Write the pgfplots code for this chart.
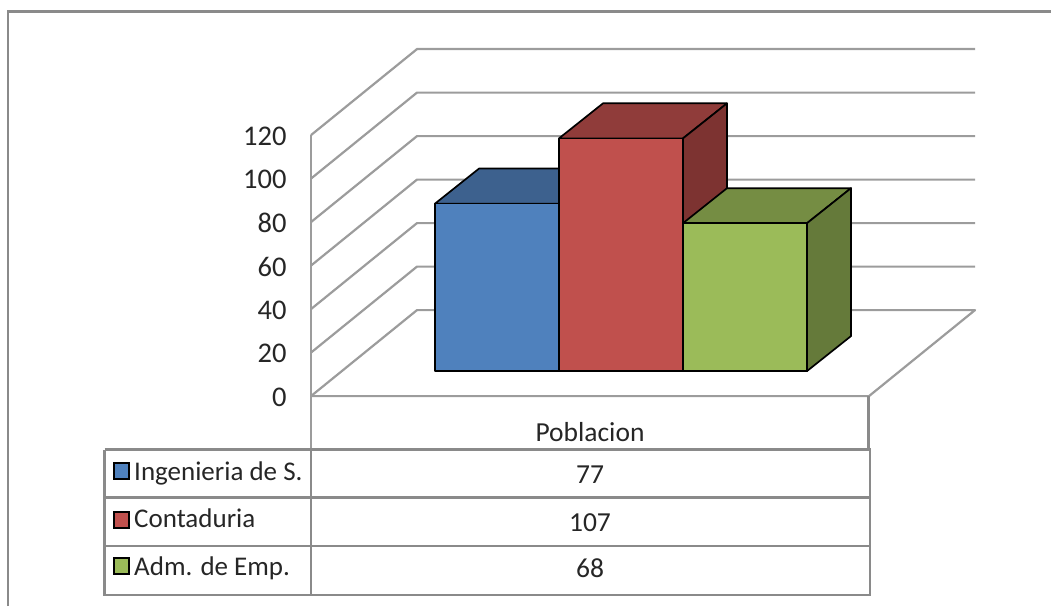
\documentclass[border=0pt]{standalone}
\usepackage{fontspec}
\setmainfont{Carlito}
\usepackage{pgfplots}
\pgfplotsset{compat=1.18}

\definecolor{gridgray}{HTML}{9C9C9C}
\definecolor{framegray}{HTML}{8A8A8A}
\definecolor{bluefront}{HTML}{4F81BD}
\definecolor{bluetop}{HTML}{3D618E}
\definecolor{redfront}{HTML}{C0504D}
\definecolor{redtop}{HTML}{903C3A}
\definecolor{redside}{HTML}{7D3331}
\definecolor{greenfront}{HTML}{9BBB59}
\definecolor{greentop}{HTML}{758D43}
\definecolor{greenside}{HTML}{657A3A}

% A box standing on the floor: x0, x1, value, front, top and side colours.
% The foot sits 11.5 units up the floor; the depth runs 44 across, 16.1 up.
\newcommand{\drawbox}[6]{%
  \pgfmathsetmacro\boxbase{11.5}%
  \pgfmathsetmacro\boxtop{#3+11.5}%
  \pgfmathsetmacro\boxback{#3+11.5+16.1}%
  \pgfmathsetmacro\boxfoot{11.5+16.1}%
  \pgfmathsetmacro\xa{#1+44}%
  \pgfmathsetmacro\xb{#2+44}%
  \addplot[draw=black, line width=1.7pt, line join=round, fill=#5] coordinates
    {(#1,\boxtop) (#2,\boxtop) (\xb,\boxback) (\xa,\boxback)} --cycle;
  \addplot[draw=black, line width=1.7pt, line join=round, fill=#6] coordinates
    {(#2,\boxbase) (\xb,\boxfoot) (\xb,\boxback) (#2,\boxtop)} --cycle;
  \addplot[draw=black, line width=1.7pt, line join=round, fill=#4] coordinates
    {(#1,\boxbase) (#2,\boxbase) (#2,\boxtop) (#1,\boxtop)} --cycle;
}

% One wall-and-back gridline at a given value.
\newcommand{\gridline}[1]{%
  \pgfmathsetmacro\backv{#1+39.54}%
  \addplot[gridgray, line width=2.2pt] coordinates {(311,#1) (417,\backv) (975,\backv)};
}

% One colour key of the data table.
\newcommand{\tablekey}[3]{%
  \addplot[draw=black, line width=2pt, fill=#3] coordinates
    {(113.5,#1) (128.5,#1) (128.5,#2) (113.5,#2)} --cycle;
}

\begin{document}
\begin{tikzpicture}
\useasboundingbox (0,0) rectangle (1051pt,606pt);
\begin{axis}[
  at={(311pt,209.9pt)}, anchor=south west,
  scale only axis, width=558pt, height=261pt,
  xmin=311, xmax=869, ymin=0, ymax=120,
  clip=false,
  axis line style={draw=none},
  xtick=\empty,
  ytick={0,20,40,60,80,100,120},
  major tick length=0pt,
  tick style={draw=none},
  yticklabel style={font=\fontsize{28.5}{30}\selectfont, anchor=east, xshift=-21pt, yshift=-1pt, text=black!85},
  /pgf/number format/assume math mode=true,
]
% outer frame of the chart area
\addplot[framegray, line width=2.8pt] coordinates {(8,-96.55) (8,177) (1051,177)};

% floor, walls and gridlines
\addplot[gridgray, line width=2.2pt] coordinates {(311,120) (311,-24.6)};
\addplot[gridgray, line width=2.2pt, line join=round] coordinates {(311,0) (417,39.54) (975,39.54) (869,0) (311,0)};
\gridline{20}
\gridline{40}
\gridline{60}
\gridline{80}
\gridline{100}
\gridline{120}

% the three boxes, back to front in drawing order
\drawbox{435}{559}{77}{bluefront}{bluetop}{bluetop}
\drawbox{559}{683}{107}{redfront}{redtop}{redside}
\drawbox{683}{807}{68}{greenfront}{greentop}{greenside}

% data table rules
\addplot[framegray, line width=2.2pt] coordinates {(868.5,0) (868.5,-24.6)};
\addplot[framegray, line width=2.6pt] coordinates {(104.5,-24.6) (870,-24.6) (870,-91.5) (104.5,-91.5) (104.5,-24.6)};
\addplot[framegray, line width=2.6pt] coordinates {(104.5,-46.7) (870,-46.7)};
\addplot[framegray, line width=2.6pt] coordinates {(104.5,-69) (870,-69)};
\addplot[framegray, line width=2.6pt] coordinates {(311,-24.6) (311,-91.5)};

% colour keys
\tablekey{-30.8}{-38.2}{bluefront}
\tablekey{-53.3}{-60.6}{redfront}
\tablekey{-74.6}{-82}{greenfront}

% table text
\begin{scope}[every node/.style={font=\fontsize{27.5}{30}\selectfont, text=black!85}]
\node[anchor=base] at (axis cs:590,-20.8) {Poblacion};
\node at (axis cs:590,-36.2) {77};
\node at (axis cs:590,-58.2) {107};
\node at (axis cs:590,-79.2) {68};
\end{scope}
\begin{scope}[every node/.style={font=\fontsize{27}{30}\selectfont, text=black!85, anchor=base west, inner sep=0pt}]
\node at (axis cs:134,-38.7) {Ingenieria de S.};
\node at (axis cs:134,-60.6) {Contaduria};
\node at (axis cs:134,-82.4) {Adm. de Emp.};
\end{scope}
\end{axis}
\end{tikzpicture}
\end{document}
